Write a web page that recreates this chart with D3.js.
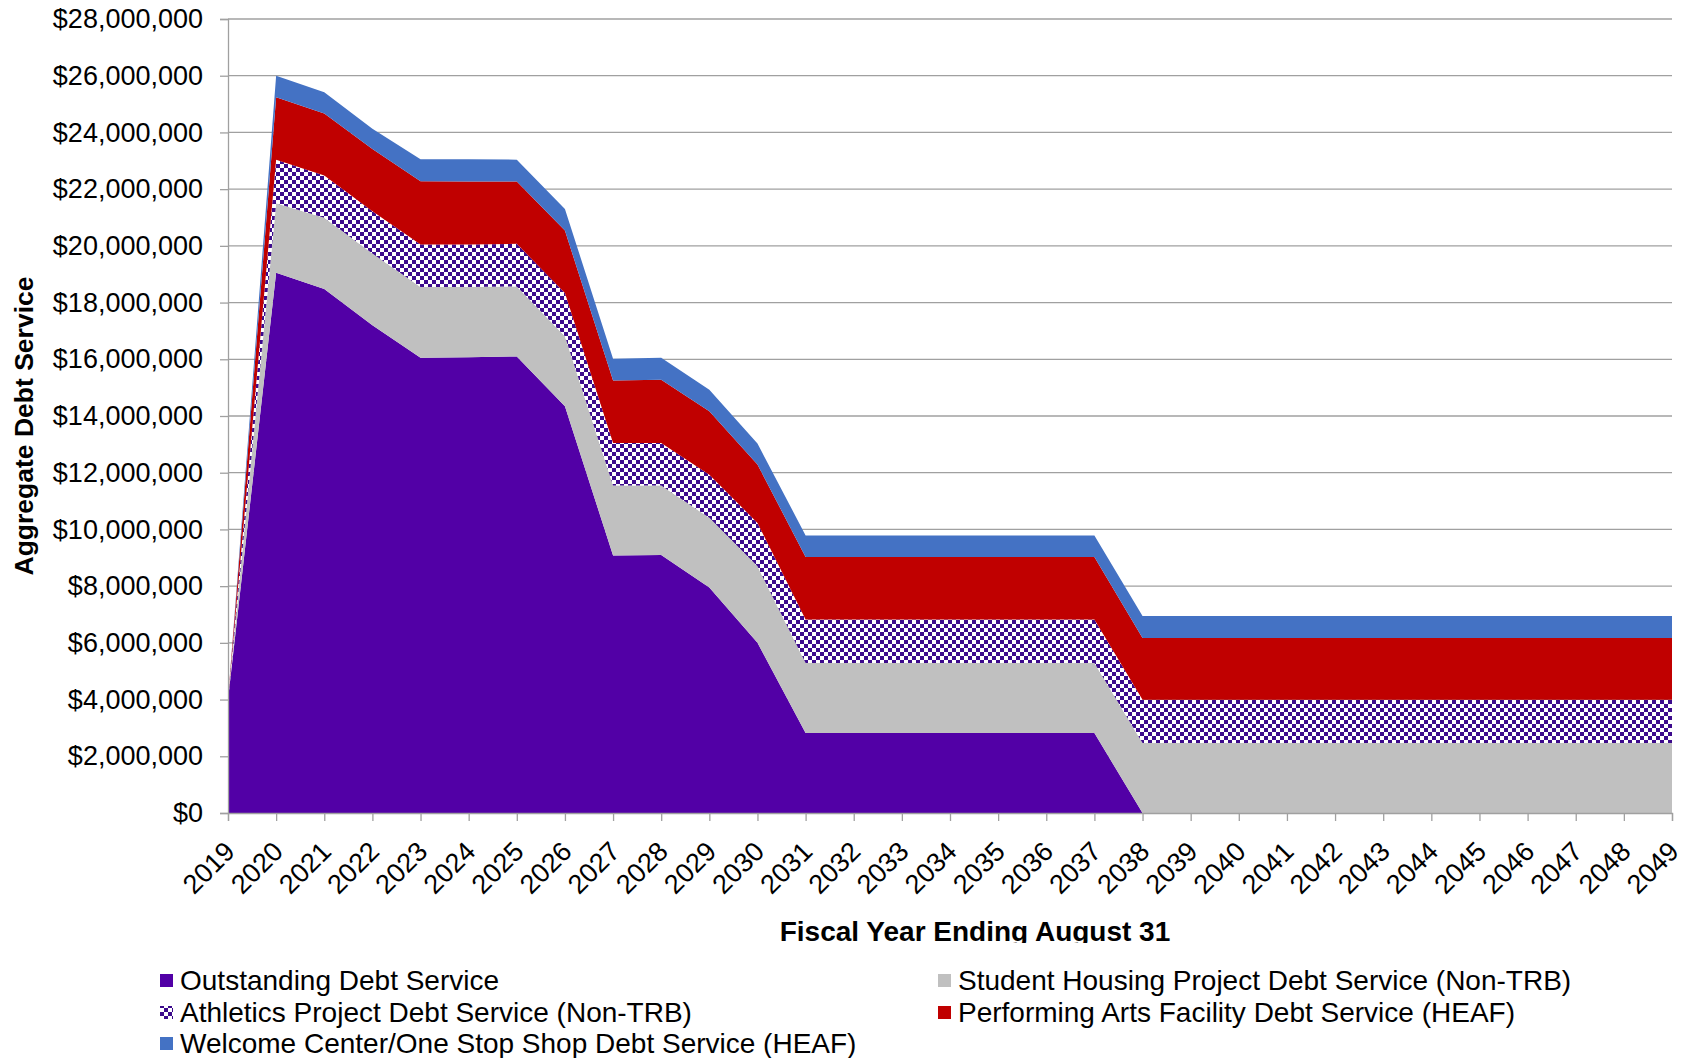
<!DOCTYPE html>
<html>
<head>
<meta charset="utf-8">
<script src="https://cdn.jsdelivr.net/npm/d3@7"></script>
<style>
  body { margin: 0; background: #fff; }
  text { font-family: "Liberation Sans", Arial, sans-serif; }
</style>
</head>
<body>
<div id="chart"></div>
<script>
var years = d3.range(2019, 2050);

// aggregate debt service per fiscal year, by component ($)
var outstanding = [4000000, 19050000, 18480000, 17200000, 16050000, 16070000, 16100000, 14340000, 9080000, 9100000, 7950000, 6000000,
  2820000, 2820000, 2820000, 2820000, 2820000, 2820000, 2820000,
  0, 0, 0, 0, 0, 0, 0, 0, 0, 0, 0, 0];
var studentHousing = [0, 2450000, 2510000, 2530000, 2500000, 2480000, 2470000, 2470000, 2470000, 2450000, 2460000, 2700000,
  2470000, 2470000, 2470000, 2470000, 2470000, 2470000, 2470000,
  2470000, 2470000, 2470000, 2470000, 2470000, 2470000, 2470000, 2470000, 2470000, 2470000, 2470000, 2470000];
var athletics = [0, 1540000, 1490000, 1490000, 1500000, 1500000, 1500000, 1530000, 1500000, 1500000, 1520000, 1530000,
  1530000, 1530000, 1530000, 1530000, 1530000, 1530000, 1530000,
  1520000, 1520000, 1520000, 1520000, 1520000, 1520000, 1520000, 1520000, 1520000, 1520000, 1520000, 1520000];
var performingArts = [0, 2200000, 2190000, 2200000, 2230000, 2220000, 2200000, 2200000, 2200000, 2230000, 2240000, 2060000,
  2210000, 2210000, 2210000, 2210000, 2210000, 2210000, 2210000,
  2180000, 2180000, 2180000, 2180000, 2180000, 2180000, 2180000, 2180000, 2180000, 2180000, 2180000, 2180000];
var welcomeCenter = [0, 760000, 750000, 710000, 770000, 780000, 770000, 760000, 770000, 770000, 760000, 740000,
  760000, 760000, 760000, 760000, 760000, 760000, 760000,
  780000, 780000, 780000, 780000, 780000, 780000, 780000, 780000, 780000, 780000, 780000, 780000];

var seriesNames = ["Outstanding Debt Service", "Student Housing Project Debt Service (Non-TRB)",
  "Athletics Project Debt Service (Non-TRB)", "Performing Arts Facility Debt Service (HEAF)",
  "Welcome Center/One Stop Shop Debt Service (HEAF)"];
var yTicks = d3.range(0, 28000001, 2000000);

var width = 1685, height = 1058;
var plotLeft = 228, plotRight = 1672, plotTop = 19, plotBottom = 813;

var keys = ["outstanding", "housing", "athletics", "arts", "welcome"];
var fills = ["#5200a6", "#c0c0c0", "url(#checker)", "#c00000", "#4472c4"];

var table = years.map(function(y, i) {
  return {year: y, outstanding: outstanding[i], housing: studentHousing[i], athletics: athletics[i],
          arts: performingArts[i], welcome: welcomeCenter[i]};
});

var svg = d3.select("#chart").append("svg")
  .attr("width", width)
  .attr("height", height);

/* checkerboard pattern for athletics */
var defs = svg.append("defs");
var pat = defs.append("pattern")
  .attr("id", "checker")
  .attr("patternUnits", "userSpaceOnUse")
  .attr("width", 8).attr("height", 8);
pat.append("rect").attr("width", 8).attr("height", 8).attr("fill", "#fff");
pat.append("rect").attr("width", 4).attr("height", 4).attr("fill", "#3c0a8c");
pat.append("rect").attr("x", 4).attr("y", 4).attr("width", 4).attr("height", 4).attr("fill", "#3c0a8c");

defs.append("clipPath").attr("id", "titleclip")
  .append("rect").attr("x", 0).attr("y", 900).attr("width", width).attr("height", 43);

var x = d3.scaleLinear().domain([2019, 2049]).range([plotLeft, plotRight]);
var y = d3.scaleLinear().domain([0, 28000000]).range([plotBottom, plotTop]);

// gridlines
svg.append("g").selectAll("line")
  .data(yTicks.slice(1))
  .enter().append("line")
  .attr("x1", plotLeft).attr("x2", plotRight)
  .attr("y1", function(d) { return y(d); })
  .attr("y2", function(d) { return y(d); })
  .attr("stroke", "#a0a0a0").attr("stroke-width", 1.3);

var stack = d3.stack().keys(keys);
var layers = stack(table);

var area = d3.area()
  .x(function(d) { return x(d.data.year); })
  .y0(function(d) { return y(d[0]); })
  .y1(function(d) { return y(d[1]); });

svg.append("g").selectAll("path")
  .data(layers)
  .enter().append("path")
  .attr("d", area)
  .attr("fill", function(d, i) { return fills[i]; });

// y axis
var yAxis = d3.axisLeft(y)
  .tickValues(yTicks)
  .tickSize(8)
  .tickFormat(function(d) { return "$" + d3.format(",")(d); });
var gy = svg.append("g").attr("transform", "translate(" + plotLeft + ",0)").call(yAxis);
gy.select(".domain").attr("stroke", "#a0a0a0").attr("stroke-width", 1.3);
gy.selectAll(".tick line").attr("stroke", "#a0a0a0").attr("stroke-width", 1.3);
gy.selectAll(".tick text")
  .attr("x", -25)
  .style("font-size", "27px")
  .style("font-family", "Liberation Sans, Arial, sans-serif")
  .attr("fill", "#000");

// x axis
var xAxis = d3.axisBottom(x)
  .tickValues(years)
  .tickSize(8)
  .tickFormat(d3.format("d"));
var gx = svg.append("g").attr("transform", "translate(0," + plotBottom + ")").call(xAxis);
gx.select(".domain").attr("stroke", "#a0a0a0").attr("stroke-width", 1.3);
gx.selectAll(".tick line").attr("stroke", "#a0a0a0").attr("stroke-width", 1.3);
gx.selectAll(".tick text")
  .attr("y", 0).attr("dy", "0")
  .attr("text-anchor", "end")
  .attr("transform", "translate(8,40) rotate(-45)")
  .style("font-size", "27px")
  .style("font-family", "Liberation Sans, Arial, sans-serif")
  .attr("fill", "#000");

// axis titles
svg.append("text")
  .attr("x", 975).attr("y", 941)
  .attr("text-anchor", "middle")
  .attr("clip-path", "url(#titleclip)")
  .style("font-size", "28px").style("font-weight", "bold")
  .text("Fiscal Year Ending August 31");

svg.append("text")
  .attr("transform", "translate(33,426) rotate(-90)")
  .attr("text-anchor", "middle")
  .style("font-size", "26.5px").style("font-weight", "bold")
  .text("Aggregate Debt Service");

/* legend */
var legendPos = [[160, 980], [938, 980], [160, 1012], [938, 1012], [160, 1043]];
var legend = svg.append("g").selectAll("g")
  .data(seriesNames)
  .enter().append("g")
  .attr("transform", function(d, i) { return "translate(" + legendPos[i][0] + "," + legendPos[i][1] + ")"; });
legend.append("rect")
  .attr("x", 0).attr("y", -6).attr("width", 13).attr("height", 13)
  .attr("fill", function(d, i) { return fills[i]; });
legend.append("text")
  .attr("x", 20).attr("dy", "0.35em")
  .style("font-size", "28px")
  .text(function(d) { return d; });
</script>
</body>
</html>
